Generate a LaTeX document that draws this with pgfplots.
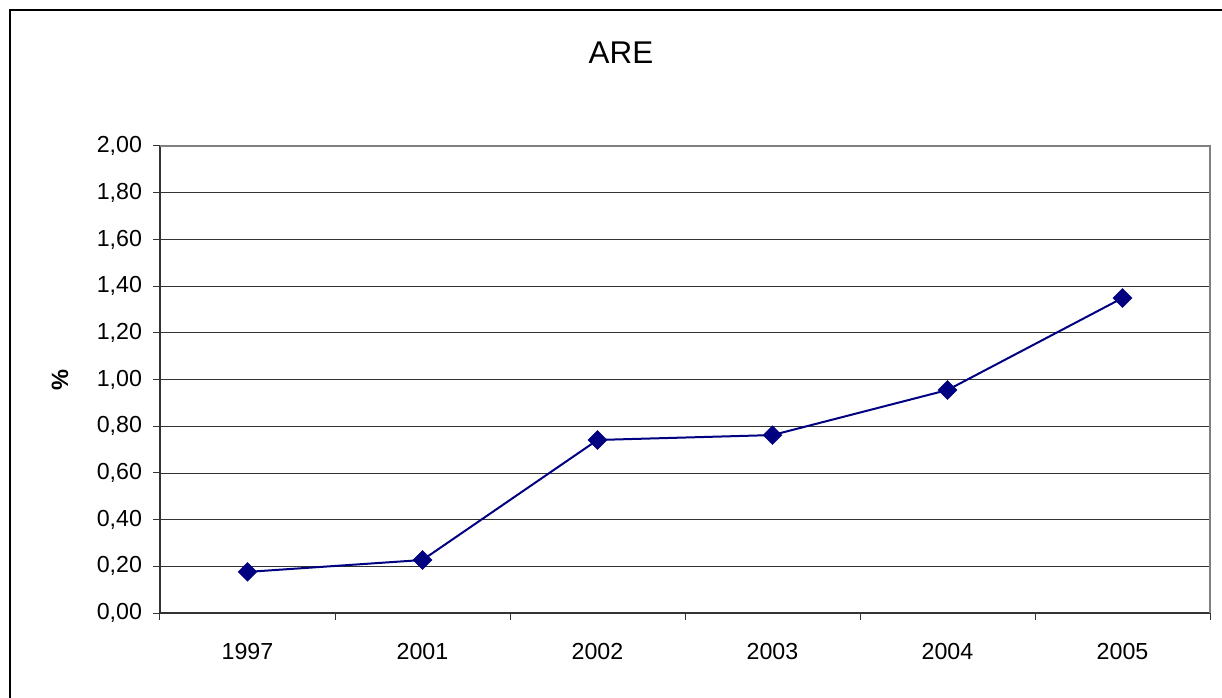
\documentclass[border=0pt]{standalone}
\usepackage{fontspec}
\setmainfont{Liberation Sans}
\usepackage{pgfplots}
\pgfplotsset{compat=1.18}
\definecolor{navyline}{RGB}{0,0,128}
\begin{document}
\begin{tikzpicture}
\clip (0pt,0pt) rectangle (611pt,348.5pt);
\draw[line width=1.2pt] (5pt,343.5pt) rectangle (620pt,-10pt);
\node[font=\fontsize{15.7}{18}\selectfont] at (310.5pt,322pt) {ARE};
\node[font=\fontsize{11.8}{13}\selectfont\bfseries, rotate=90] at (30pt,158.5pt) {\%};
\begin{axis}[
  at={(80pt,42pt)}, anchor=south west,
  scale only axis, width=525pt, height=233.5pt,
  xmin=-0.5, xmax=5.5, ymin=0, ymax=2,
  xtick={0,1,2,3,4,5},
  xticklabels={1997,2001,2002,2003,2004,2005},
  major x tick style={draw=none},
  minor xtick={-0.5,0.5,1.5,2.5,3.5,4.5,5.5},
  minor tick length=3.5pt,
  ytick={0,0.2,0.4,0.6,0.8,1.0,1.2,1.4,1.6,1.8,2.0},
  major tick length=3.5pt,
  tick align=outside,
  tick style={black!80, line width=0.5pt},
  ymajorgrids, grid style={black!80, line width=0.4pt},
  axis x line*=bottom, axis y line*=left,
  axis line style={black!80, line width=0.8pt},
  separate axis lines,
  every outer x axis line/.append style={-},
  every outer y axis line/.append style={-},
  ticklabel style={font=\fontsize{11.6}{13}\selectfont},
  yticklabel style={xshift=-2pt},
  xticklabel style={yshift=-8pt},
  yticklabel={\pgfmathprintnumber[use comma,fixed,fixed zerofill,precision=2,assume math mode=true]{\tick}},
  clip=false,
]
\draw[gray, line width=0.8pt] (axis cs:-0.5,2) -- (axis cs:5.5,2) -- (axis cs:5.5,0);
\addplot[color=navyline, line width=1pt, mark=diamond*, mark size=4.2pt, mark options={fill=navyline, draw=navyline, xscale=1.33}]
coordinates {(0,0.176) (1,0.227) (2,0.741) (3,0.762) (4,0.955) (5,1.349)};
\end{axis}
\end{tikzpicture}
\end{document}
